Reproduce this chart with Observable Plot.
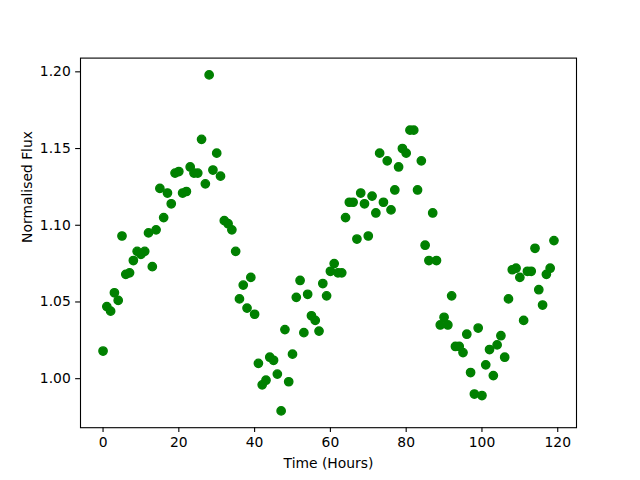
<!DOCTYPE html>
<html>
<head>
<meta charset="utf-8">
<script src="https://cdn.jsdelivr.net/npm/d3@7"></script>
<script src="https://cdn.jsdelivr.net/npm/@observablehq/plot@0.6"></script>
<style>
  html, body { margin: 0; padding: 0; background: #ffffff; }
  #chart { width: 640px; height: 480px; }
</style>
</head>
<body>
<div id="chart"></div>
<script>
const hours = [
  0, 1, 2, 3, 4, 5, 6, 7, 8, 9,
  10, 11, 12, 13, 14, 15, 16, 17, 18, 19,
  20, 21, 22, 23, 24, 25, 26, 27, 28, 29,
  30, 31, 32, 33, 34, 35, 36, 37, 38, 39,
  40, 41, 42, 43, 44, 45, 46, 47, 48, 49,
  50, 51, 52, 53, 54, 55, 56, 57, 58, 59,
  60, 61, 62, 63, 64, 65, 66, 67, 68, 69,
  70, 71, 72, 73, 74, 75, 76, 77, 78, 79,
  80, 81, 82, 83, 84, 85, 86, 87, 88, 89,
  90, 91, 92, 93, 94, 95, 96, 97, 98, 99,
  100, 101, 102, 103, 104, 105, 106, 107, 108, 109,
  110, 111, 112, 113, 114, 115, 116, 117, 118, 119
];
const flux = [
  1.018, 1.047, 1.044, 1.056, 1.051, 1.093, 1.068, 1.069, 1.077, 1.083,
  1.081, 1.083, 1.095, 1.073, 1.097, 1.124, 1.105, 1.121, 1.114, 1.134,
  1.135, 1.121, 1.122, 1.138, 1.134, 1.134, 1.156, 1.127, 1.198, 1.136,
  1.147, 1.132, 1.103, 1.101, 1.097, 1.083, 1.052, 1.061, 1.046, 1.066,
  1.042, 1.010, 0.996, 0.999, 1.014, 1.012, 1.003, 0.979, 1.032, 0.998,
  1.016, 1.053, 1.064, 1.030, 1.055, 1.041, 1.038, 1.031, 1.062, 1.054,
  1.070, 1.075, 1.069, 1.069, 1.105, 1.115, 1.115, 1.091, 1.121, 1.114,
  1.093, 1.119, 1.108, 1.147, 1.115, 1.142, 1.110, 1.123, 1.138, 1.150,
  1.147, 1.162, 1.162, 1.123, 1.142, 1.087, 1.077, 1.108, 1.077, 1.035,
  1.040, 1.035, 1.054, 1.021, 1.021, 1.017, 1.029, 1.004, 0.990, 1.033,
  0.989, 1.009, 1.019, 1.002, 1.022, 1.028, 1.014, 1.052, 1.071, 1.072,
  1.066, 1.038, 1.070, 1.070, 1.085, 1.058, 1.048, 1.068, 1.072, 1.090
];
const xTicks = [0, 20, 40, 60, 80, 100, 120];
const yTicks = [1.00, 1.05, 1.10, 1.15, 1.20];
const xLabel = "Time (Hours)";
const yLabel = "Normalised Flux";

const data = hours.map((t, i) => ({t, f: flux[i]}));

const xPad = (d3.max(hours) - d3.min(hours)) * 0.05;
const yPad = (d3.max(flux) - d3.min(flux)) * 0.05;

const green = "#008000";
const fs = 13.89;
const tick = 4.86;

const chart = Plot.plot({
  width: 640,
  height: 480,
  marginLeft: 80,
  marginRight: 64,
  marginTop: 57.6,
  marginBottom: 52.8,
  style: {fontFamily: "DejaVu Sans", fontSize: fs + "px", background: "#ffffff", color: "#000000"},
  x: {domain: [d3.min(hours) - xPad, d3.max(hours) + xPad], label: null},
  y: {domain: [d3.min(flux) - yPad, d3.max(flux) + yPad], label: null},
  marks: [
    Plot.dot(data, {x: "t", y: "f", r: 4.17, fill: green, stroke: green, strokeWidth: 1.39}),
    Plot.frame({stroke: "#000000", strokeWidth: 1.1}),
    Plot.axisX({ticks: xTicks, tickSize: tick, tickPadding: tick, tickFormat: d => String(d), stroke: "#000000", strokeWidth: 1.1, fontSize: fs, label: null}),
    Plot.axisY({ticks: yTicks, tickSize: tick, tickPadding: tick, tickFormat: d3.format(".2f"), stroke: "#000000", strokeWidth: 1.1, fontSize: fs, label: null}),
    Plot.text([xLabel], {text: d => d, frameAnchor: "bottom", lineAnchor: "bottom", dy: 40, fontSize: fs, fill: "#000000"}),
    Plot.text([yLabel], {text: d => d, frameAnchor: "left", lineAnchor: "bottom", rotate: -90, dx: -49, fontSize: fs, fill: "#000000"})
  ]
});

document.getElementById("chart").appendChild(chart);
</script>
</body>
</html>
